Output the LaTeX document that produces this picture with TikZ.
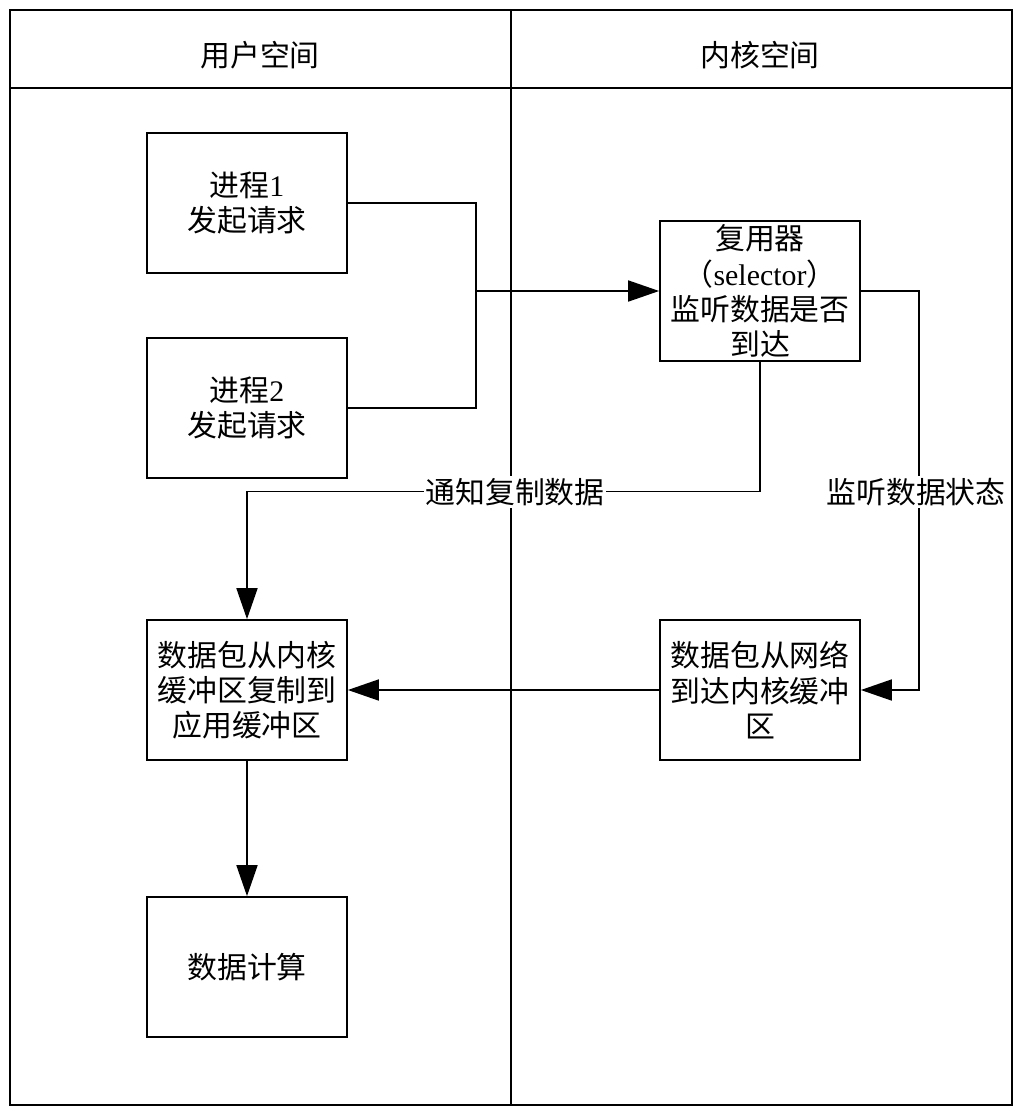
\documentclass[tikz,border=0pt]{standalone}
\usepackage{fontspec}
\setmainfont{Noto Sans CJK SC}
\newfontfamily\lat{Liberation Serif}
\usetikzlibrary{arrows.meta,positioning,calc}

\begin{document}
\begin{tikzpicture}[
  x=0.02cm,y=-0.02cm,
  >={Triangle[length=6.2mm,width=4.2mm]},
  font=\fontsize{17pt}{20pt}\selectfont,
  box/.style={rectangle,draw,line width=1pt,minimum width=4cm,
              minimum height=2.8cm,align=center,inner sep=2pt},
  link/.style={line width=1pt},
  tag/.style={fill=white,inner sep=1pt},
]
  \useasboundingbox (0,0) rectangle (1022,1117);

  % swimlane frame
  \draw[link] (10,10) rectangle (1012,1105);
  \draw[link] (10,88) -- (1012,88);
  \draw[link] (511,10) -- (511,1105);
  \node (hu) at (260,55) {用户空间};
  \node (hk) at (760,55) {内核空间};

  % user space
  \node[box] (p1) at (247,203) {进程{\lat 1}\\发起请求};
  \node[box] (p2) at (247,408) {进程{\lat 2}\\发起请求};
  \node[box] (cp) at (247,690) {数据包从内核\\缓冲区复制到\\应用缓冲区};
  \node[box] (calc) at (247,967) {数据计算};
  % kernel space
  \node[box,minimum height=2.76cm] (sel) at (760,291)
       {复用器\\（{\lat selector}）\\监听数据是否\\到达};
  \node[box] (kd) at (760,690) {数据包从网络\\到达内核缓冲\\区};

  % flows
  \coordinate (jn) at (476,291);
  \draw[link] (p1.east) -| (jn);
  \draw[link] (p2.east) -| (jn);
  \draw[link,->] (jn) -- (sel.west);
  \draw[link,->] (sel.south) -- ++(0,130) -| (cp.north);
  \draw[link,->] (sel.east) -- ++(58,0) |- (kd.east);
  \draw[link,->] (kd.west) -- (cp.east);
  \draw[link,->] (cp.south) -- (calc.north);

  % labels over the lines
  \node[tag] (nt) at (515,492) {通知复制数据};
  \node[tag] (mn) at (916,492) {监听数据状态};
\end{tikzpicture}
\end{document}
